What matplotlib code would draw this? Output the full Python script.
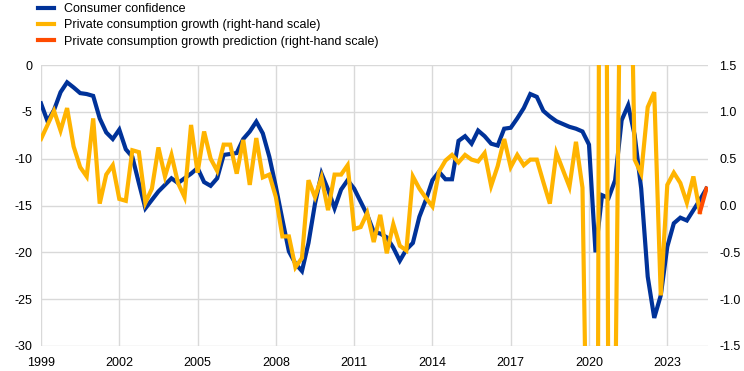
import matplotlib
matplotlib.use("Agg")
import matplotlib.pyplot as plt
import numpy as np
import pandas as pd

plt.rcParams['font.family'] = ['Liberation Sans', 'DejaVu Sans']
plt.rcParams['axes.unicode_minus'] = False

# quarterly data, 1999Q1 - 2024Q3
quarters = pd.period_range('1999Q1', '2024Q3', freq='Q')

confidence = [
    -4.1, -6.0, -4.8, -2.9,
    -1.85, -2.4, -3.0, -3.1,
    -3.3, -5.7, -7.2, -7.9,
    -6.9, -9.0, -9.8, -12.6,
    -15.3, -14.4, -13.5, -12.8,
    -12.1, -12.6, -12.1, -11.6,
    -11.0, -12.5, -12.9, -12.1,
    -9.6, -9.5, -9.4, -7.9,
    -7.1, -6.05, -7.3, -9.8,
    -13.0, -16.5, -19.9, -21.2,
    -22.0, -19.0, -14.8, -11.6,
    -13.3, -15.3, -13.3, -12.3,
    -13.2, -14.6, -16.0, -17.8,
    -18.0, -18.4, -19.5, -20.9,
    -19.7, -19.0, -16.2, -14.4,
    -12.3, -11.4, -12.2, -12.2,
    -8.1, -7.6, -8.4, -7.0,
    -7.6, -8.4, -8.6, -6.8,
    -6.7, -5.7, -4.6, -3.1,
    -3.4, -4.9, -5.5, -6.0,
    -6.3, -6.6, -6.8, -7.1,
    -8.5, -20.0, -13.9, -14.2,
    -12.3, -5.9, -4.3, -7.5,
    -13.2, -22.6, -27.0, -24.6,
    -19.4, -16.9, -16.3, -16.6,
    -15.5, -14.4, -13.2,
]

consumption = [
    0.71, 0.86, 1.01, 0.80,
    1.04, 0.63, 0.41, 0.31,
    0.93, 0.02, 0.33, 0.43,
    0.07, 0.05, 0.59, 0.57,
    0.03, 0.18, 0.62, 0.31,
    0.54, 0.24, 0.09, 0.86,
    0.35, 0.79, 0.50, 0.37,
    0.65, 0.65, 0.34, 0.70,
    0.22, 0.72, 0.30, 0.33,
    0.09, -0.33, -0.33, -0.66,
    -0.56, 0.27, 0.09, 0.30,
    -0.05, 0.33, 0.33, 0.43,
    -0.25, -0.23, -0.08, -0.39,
    -0.10, -0.51, -0.20, -0.43,
    -0.48, 0.31, 0.18, 0.08,
    -0.01, 0.36, 0.48, 0.54,
    0.46, 0.54, 0.49, 0.47,
    0.56, 0.21, 0.42, 0.71,
    0.41, 0.54, 0.43, 0.49,
    0.49, 0.25, 0.02, 0.56,
    0.38, 0.20, 0.68, 0.19,
    -4.3, -11.6, 14.0, -2.8,
    -2.3, 4.0, 4.3, 0.49,
    0.34, 1.05, 1.21, -0.96,
    0.22, 0.35, 0.24, 0.03,
    0.31, -0.07,
]

# prediction: last observed quarter to 2024Q3
prediction = [-0.07, 0.18]

x = np.asarray(quarters.year + (quarters.quarter - 1) / 4.0, dtype=float)

blue = '#003299'
yellow = '#FFB400'
red = '#FF4B00'
grid = '#d9d9d9'

fig = plt.figure(figsize=(7.44, 3.71), dpi=100)
ax = fig.add_axes([41 / 744, 1 - 346 / 371, 667 / 744, 281 / 371])
ax2 = ax.twinx()

l1, = ax.plot(x, confidence, color=blue, lw=3, solid_joinstyle='miter', label='Consumer confidence')
l2, = ax2.plot(x[:len(consumption)], consumption, color=yellow, lw=3, solid_joinstyle='miter',
               label='Private consumption growth (right-hand scale)')
l3, = ax2.plot(x[len(consumption) - 1:], prediction, color=red, lw=3,
               label='Private consumption growth prediction (right-hand scale)')

ax.set_xlim(1999, 2024.56)
ax.set_ylim(-30, 0)
ax2.set_ylim(-1.5, 1.5)
ax.set_xticks(range(1999, 2024, 3))
ax.set_yticks(range(-30, 1, 5))
ax2.set_yticks([-1.5, -1.0, -0.5, 0.0, 0.5, 1.0, 1.5])
ax2.set_yticklabels(['%.1f' % v for v in [-1.5, -1.0, -0.5, 0.0, 0.5, 1.0, 1.5]])

ax.grid(True, color=grid, lw=1)
ax.set_axisbelow(True)
for a in (ax, ax2):
    for s in a.spines.values():
        s.set_visible(False)
    a.tick_params(length=0, labelsize=9, colors='#000000')
ax.tick_params(axis='y', pad=6)
ax.tick_params(axis='x', pad=8)
ax2.tick_params(axis='y', pad=8)

fig.legend(handles=[l1, l2, l3], loc='upper left', bbox_to_anchor=(38 / 744, 1 - 3 / 371),
           frameon=False, fontsize=9, handlelength=1.3, handletextpad=0.75,
           labelspacing=0.35, borderaxespad=0.0, borderpad=0.0)

fig.savefig('out.png', dpi=100)
